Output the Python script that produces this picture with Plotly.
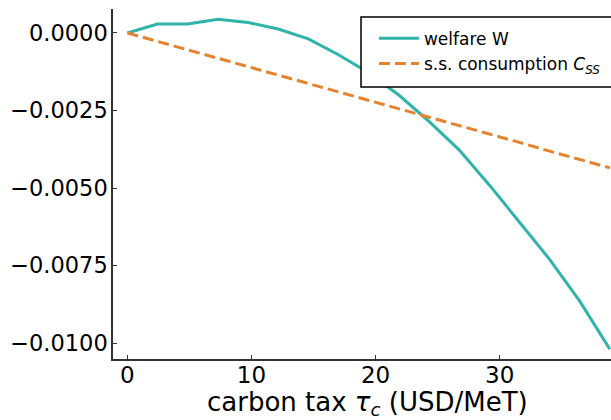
import plotly.graph_objects as go

tax = [0, 2.43, 4.86, 7.29, 9.72, 12.15, 14.58, 17.01, 19.44, 21.87, 24.30,
       26.73, 29.16, 31.59, 34.02, 36.45, 38.88]
welfare = [0, 0.00029, 0.00029, 0.00044, 0.00034, 0.00013, -0.00019, -0.00070,
           -0.00128, -0.00200, -0.00285, -0.00377, -0.00490, -0.00609, -0.00730,
           -0.00865, -0.01020]
consumption = [0, -0.00027, -0.00054, -0.00081, -0.00109, -0.00136, -0.00163,
               -0.00190, -0.00217, -0.00245, -0.00272, -0.00299, -0.00326,
               -0.00353, -0.00381, -0.00408, -0.00435]

y_ticks = [0.0, -0.0025, -0.005, -0.0075, -0.01]
y_labels = ["0.0000", "\u22120.0025", "\u22120.0050", "\u22120.0075", "\u22120.0100"]
x_ticks = [0, 10, 20, 30]

TEAL = "#2fb3aa"
ORANGE = "#e5832f"
FONT = "DejaVu Sans"

fig = go.Figure()
fig.add_trace(go.Scatter(x=tax, y=welfare, mode="lines", name="welfare W",
                         line=dict(color=TEAL, width=3)))
fig.add_trace(go.Scatter(x=tax, y=consumption, mode="lines",
                         name="s.s. consumption <i>C</i><sub><i>SS</i></sub>",
                         line=dict(color=ORANGE, width=3, dash="11px,5px")))

# legend frame
fig.add_shape(type="rect", xref="paper", yref="paper",
              x0=0.498, x1=1.05, y0=0.777, y1=0.977,
              line=dict(color="black", width=1.5), fillcolor="white",
              layer="above")

# x-axis title
fig.add_annotation(text="carbon tax <i>\u03c4</i><sub><i>c</i></sub> (USD/MeT)",
                   xref="paper", yref="paper", x=0.512, y=-0.18,
                   xanchor="center", yanchor="bottom", showarrow=False,
                   font=dict(family=FONT, size=26, color="black"))

fig.update_layout(
    width=611, height=420,
    margin=dict(l=113, r=0, t=9, b=61),
    paper_bgcolor="white", plot_bgcolor="white",
    font=dict(family=FONT, size=22, color="black"),
    showlegend=True,
    legend=dict(x=0.524, y=0.9664, xanchor="left", yanchor="top",
                bgcolor="rgba(0,0,0,0)", borderwidth=0,
                font=dict(family=FONT, size=17, color="black"),
                itemwidth=40, tracegroupgap=0),
    xaxis=dict(range=[-1.16, 38.97], tickvals=x_ticks,
               showgrid=False, zeroline=False,
               showline=True, linecolor="#333333", linewidth=1.5,
               ticks="inside", ticklen=4, tickcolor="#333333",
               tickfont=dict(size=23), ticklabelstandoff=-5),
    yaxis=dict(range=[-0.010516, 0.000774], tickvals=y_ticks, ticktext=y_labels,
               showgrid=False, zeroline=False,
               showline=True, linecolor="#333333", linewidth=1.5,
               ticks="inside", ticklen=4, tickcolor="#333333",
               tickfont=dict(size=22.5), ticklabelstandoff=-1),
)

fig.write_html("out.html")
